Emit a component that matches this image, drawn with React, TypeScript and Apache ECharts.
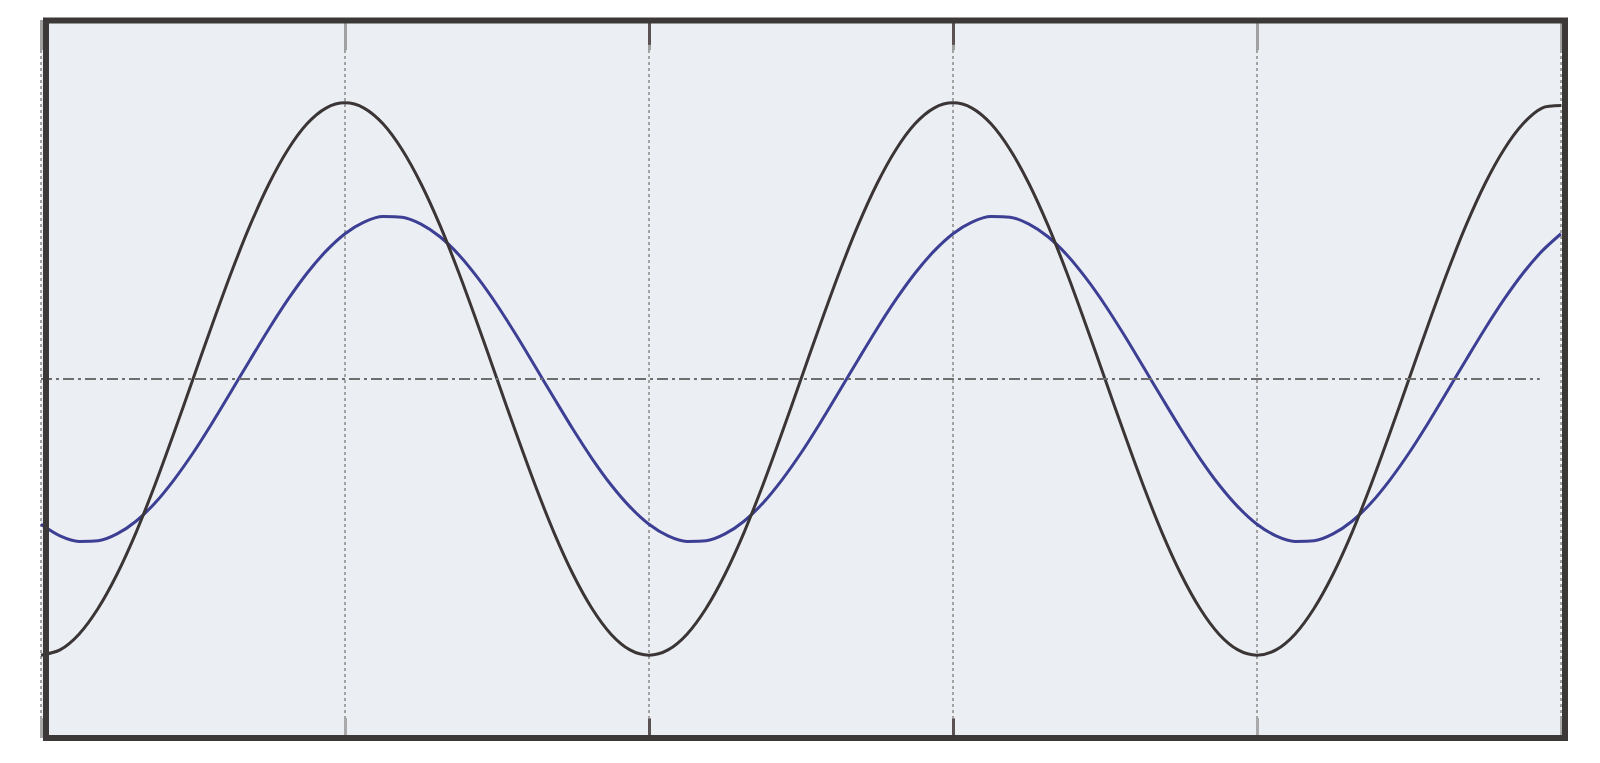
import React, { useEffect, useRef } from "react";
import * as echarts from "echarts";

const xs = [
  0, 0.0625, 0.125, 0.1875, 0.25, 0.3125, 0.375, 0.4375,
  0.5, 0.5625, 0.625, 0.6875, 0.75, 0.8125, 0.875, 0.9375,
  1, 1.0625, 1.125, 1.1875, 1.25, 1.3125, 1.375, 1.4375,
  1.5, 1.5625, 1.625, 1.6875, 1.75, 1.8125, 1.875, 1.9375,
  2, 2.0625, 2.125, 2.1875, 2.25, 2.3125, 2.375, 2.4375,
  2.5, 2.5625, 2.625, 2.6875, 2.75, 2.8125, 2.875, 2.9375,
  3, 3.0625, 3.125, 3.1875, 3.25, 3.3125, 3.375, 3.4375,
  3.5, 3.5625, 3.625, 3.6875, 3.75, 3.8125, 3.875, 3.9375,
  4, 4.0625, 4.125, 4.1875, 4.25, 4.3125, 4.375, 4.4375,
  4.5, 4.5625, 4.625, 4.6875, 4.75, 4.8125, 4.875, 4.9375,
  5,
];

const blackWave = [
  -1.0, -0.981, -0.924, -0.831, -0.707, -0.556, -0.383, -0.195,
  0.0, 0.195, 0.383, 0.556, 0.707, 0.831, 0.924, 0.981,
  1.0, 0.981, 0.924, 0.831, 0.707, 0.556, 0.383, 0.195,
  0.0, -0.195, -0.383, -0.556, -0.707, -0.831, -0.924, -0.981,
  -1.0, -0.981, -0.924, -0.831, -0.707, -0.556, -0.383, -0.195,
  0.0, 0.195, 0.383, 0.556, 0.707, 0.831, 0.924, 0.981,
  1.0, 0.981, 0.924, 0.831, 0.707, 0.556, 0.383, 0.195,
  0.0, -0.195, -0.383, -0.556, -0.707, -0.831, -0.924, -0.981,
  -1.0, -0.981, -0.924, -0.831, -0.707, -0.556, -0.383, -0.195,
  0.0, 0.195, 0.383, 0.556, 0.707, 0.831, 0.924, 0.981,
  0.99,
];

const blueWave = [
  -0.526, -0.568, -0.588, -0.586, -0.561, -0.515, -0.449, -0.365,
  -0.268, -0.16, -0.046, 0.069, 0.182, 0.288, 0.383, 0.463,
  0.526, 0.568, 0.588, 0.586, 0.561, 0.515, 0.449, 0.365,
  0.268, 0.16, 0.046, -0.069, -0.182, -0.288, -0.383, -0.463,
  -0.526, -0.568, -0.588, -0.586, -0.561, -0.515, -0.449, -0.365,
  -0.268, -0.16, -0.046, 0.069, 0.182, 0.288, 0.383, 0.463,
  0.526, 0.568, 0.588, 0.586, 0.561, 0.515, 0.449, 0.365,
  0.268, 0.16, 0.046, -0.069, -0.182, -0.288, -0.383, -0.463,
  -0.526, -0.568, -0.588, -0.586, -0.561, -0.515, -0.449, -0.365,
  -0.268, -0.16, -0.046, 0.069, 0.182, 0.288, 0.383, 0.463,
  0.526,
];

const X_MIN = 0;
const X_MAX = 5;
const Y_MIN = -1.3;
const Y_MAX = 1.3;
const darkTicks = [2, 3];
const refLineEnd = 4.93;

export default function App() {
  const ref = useRef<HTMLDivElement>(null);

  useEffect(() => {
    if (!ref.current) return;
    const chart = echarts.init(ref.current, undefined, { renderer: "svg" });

    const blackData = xs.map((x, i) => [x, blackWave[i]]);
    const blueData = xs.map((x, i) => [x, blueWave[i]]);

    const tickSegments: any[] = [];
    darkTicks.forEach((t) => {
      tickSegments.push([{ coord: [t, Y_MIN] }, { coord: [t, Y_MIN + 0.07] }]);
      tickSegments.push([{ coord: [t, Y_MAX] }, { coord: [t, Y_MAX - 0.09] }]);
    });

    const option: any = {
      animation: false,
      backgroundColor: "#ffffff",
      grid: {
        left: 41,
        right: 39,
        top: 20,
        bottom: 25,
        show: true,
        backgroundColor: "#ebeff4",
        borderWidth: 0,
      },
      xAxis: [
        {
          type: "value",
          position: "bottom",
          min: X_MIN,
          max: X_MAX,
          interval: 1,
          axisLine: { show: false, onZero: false },
          axisLabel: { show: false },
          axisTick: {
            show: true,
            inside: true,
            length: 20,
            lineStyle: { color: "#a9a9a9", width: 3 },
          },
          splitLine: {
            show: true,
            lineStyle: { color: "#a2a2a2", width: 2, type: [3, 3] },
          },
        },
        {
          type: "value",
          position: "top",
          min: X_MIN,
          max: X_MAX,
          interval: 1,
          axisLine: { show: false, onZero: false },
          axisLabel: { show: false },
          axisTick: {
            show: true,
            inside: true,
            length: 30,
            lineStyle: { color: "#a0a0a0", width: 3 },
          },
          splitLine: { show: false },
        },
      ],
      yAxis: {
        type: "value",
        min: Y_MIN,
        max: Y_MAX,
        interval: 1.3,
        axisLine: { show: false, onZero: false },
        axisLabel: { show: false },
        axisTick: { show: false },
        splitLine: { show: false },
      },
      graphic: [
        {
          type: "rect",
          z: 100,
          silent: true,
          shape: { x: 46, y: 20.5, width: 1519, height: 717.5 },
          style: { fill: "none", stroke: "#3d3838", lineWidth: 6 },
        },
      ],
      series: [
        {
          type: "line",
          name: "ref",
          data: [],
          silent: true,
          markLine: {
            silent: true,
            symbol: "none",
            label: { show: false },
            lineStyle: { color: "#6e6e6e", width: 2, type: [11, 4, 3, 4] },
            data: [[{ coord: [X_MIN, 0] }, { coord: [refLineEnd, 0] }]],
          },
        },
        {
          type: "line",
          name: "ticks",
          data: [],
          silent: true,
          markLine: {
            silent: true,
            symbol: "none",
            label: { show: false },
            lineStyle: { color: "#5a5252", width: 3, type: "solid" },
            data: tickSegments,
          },
        },
        {
          type: "line",
          name: "blue",
          data: blueData,
          smooth: 0.3,
          showSymbol: false,
          z: 3,
          lineStyle: { color: "#3d3f94", width: 3 },
        },
        {
          type: "line",
          name: "black",
          data: blackData,
          smooth: 0.3,
          showSymbol: false,
          z: 4,
          lineStyle: { color: "#3b3535", width: 3 },
        },
      ],
    };

    chart.setOption(option);
    return () => chart.dispose();
  }, []);

  return (
    <div
      ref={ref}
      style={{ position: "fixed", left: 0, top: 0, width: 1600, height: 763 }}
    />
  );
}
